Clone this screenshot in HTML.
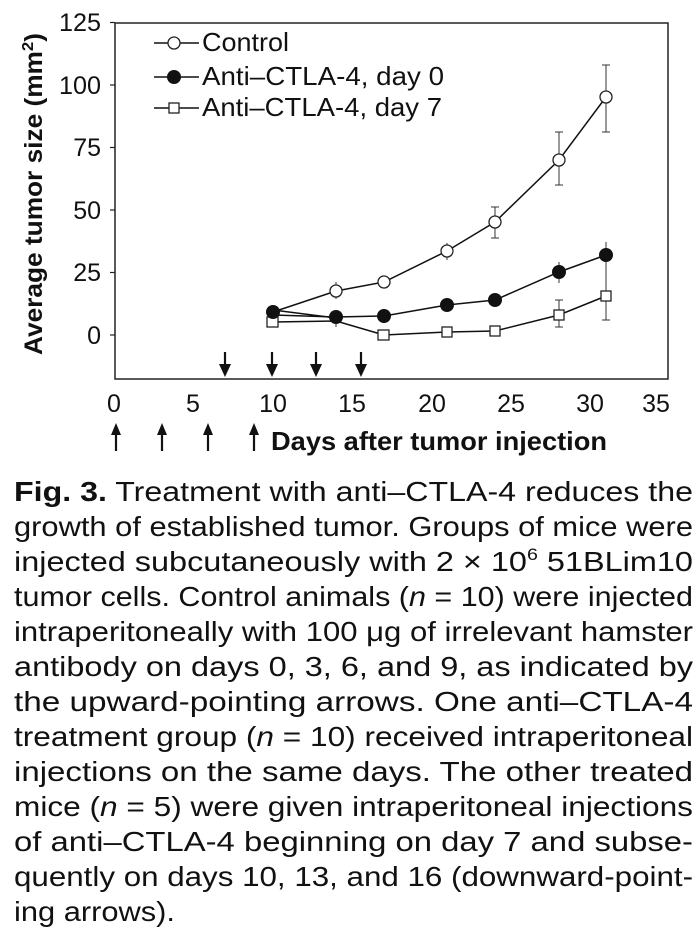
<!DOCTYPE html>
<html><head><meta charset="utf-8"><style>html,body{margin:0;padding:0;background:#fff}svg{display:block}</style></head>
<body>
<svg width="700" height="934" viewBox="0 0 700 934" xmlns="http://www.w3.org/2000/svg" font-family="Liberation Sans, Arial, sans-serif" fill="#111">
<rect x="115" y="23" width="553" height="356" fill="none" stroke="#222" stroke-width="1.5"/>
<g stroke="#222" stroke-width="1.2">
<line x1="110" y1="22.5" x2="115" y2="22.5"/><line x1="110" y1="85" x2="115" y2="85"/><line x1="110" y1="147.5" x2="115" y2="147.5"/><line x1="110" y1="210" x2="115" y2="210"/><line x1="110" y1="272.5" x2="115" y2="272.5"/><line x1="110" y1="335" x2="115" y2="335"/>
</g>
<g font-size="25" text-anchor="end">
<text x="101" y="31" textLength="42" lengthAdjust="spacingAndGlyphs">125</text><text x="101" y="94" textLength="42" lengthAdjust="spacingAndGlyphs">100</text><text x="101" y="156">75</text><text x="101" y="219">50</text><text x="101" y="281">25</text><text x="101" y="344">0</text>
</g>
<g font-size="25" text-anchor="middle">
<text x="114" y="412">0</text><text x="193" y="412">5</text><text x="273" y="412">10</text><text x="352" y="412">15</text><text x="432" y="412">20</text><text x="511" y="412">25</text><text x="590" y="412">30</text><text x="656" y="412">35</text>
</g>
<text transform="translate(42,194) rotate(-90)" font-size="25" font-weight="bold" text-anchor="middle" textLength="322" lengthAdjust="spacingAndGlyphs">Average tumor size (mm<tspan font-size="16" dy="-9">2</tspan><tspan dy="9">)</tspan></text>
<text x="271" y="450" font-size="26" font-weight="bold" textLength="336" lengthAdjust="spacingAndGlyphs">Days after tumor injection</text>
<g stroke="#111" stroke-width="2.2" fill="#111">
<line x1="225" y1="352" x2="225" y2="372"/><polygon points="219,364 225,377 231,364" stroke="none"/>
<line x1="272" y1="352" x2="272" y2="372"/><polygon points="266,364 272,377 278,364" stroke="none"/>
<line x1="316" y1="352" x2="316" y2="372"/><polygon points="310,364 316,377 322,364" stroke="none"/>
<line x1="361" y1="352" x2="361" y2="372"/><polygon points="355,364 361,377 367,364" stroke="none"/>
<line x1="116" y1="428" x2="116" y2="451"/><polygon points="111,435 116,423 121,435" stroke="none"/>
<line x1="162" y1="428" x2="162" y2="451"/><polygon points="157,435 162,423 167,435" stroke="none"/>
<line x1="208" y1="428" x2="208" y2="451"/><polygon points="203,435 208,423 213,435" stroke="none"/>
<line x1="254" y1="428" x2="254" y2="451"/><polygon points="249,435 254,423 259,435" stroke="none"/>
</g>
<g stroke="#333" stroke-width="1">
<line x1="606" y1="65" x2="606" y2="132"/><line x1="602" y1="65" x2="610" y2="65"/><line x1="602" y1="132" x2="610" y2="132"/>
<line x1="559" y1="132" x2="559" y2="185"/><line x1="555" y1="132" x2="563" y2="132"/><line x1="555" y1="185" x2="563" y2="185"/>
<line x1="495" y1="207" x2="495" y2="238"/><line x1="491" y1="207" x2="499" y2="207"/><line x1="491" y1="238" x2="499" y2="238"/>
<line x1="447" y1="243" x2="447" y2="260"/>
<line x1="606" y1="242" x2="606" y2="268"/><line x1="559" y1="262" x2="559" y2="283"/>
<line x1="606" y1="248" x2="606" y2="320"/><line x1="602" y1="320" x2="610" y2="320"/>
<line x1="559" y1="300" x2="559" y2="327"/><line x1="555" y1="300" x2="563" y2="300"/><line x1="555" y1="327" x2="563" y2="327"/>
<line x1="336" y1="282" x2="336" y2="299"/><line x1="336" y1="312" x2="336" y2="327"/>
</g>
<polyline points="273,312 336,291 384,282 447,251 495,222 559,160 606,97" fill="none" stroke="#111" stroke-width="1.5"/>
<g fill="#fff" stroke="#222" stroke-width="1.3">
<circle cx="336" cy="291" r="6"/><circle cx="384" cy="282" r="6"/><circle cx="447" cy="251" r="6"/><circle cx="495" cy="222" r="6"/><circle cx="559" cy="160" r="6"/><circle cx="606" cy="97" r="6"/>
</g>
<polyline points="273,322 336,321 384,335 447,332 495,331 559,315 606,296" fill="none" stroke="#111" stroke-width="1.5"/>
<g fill="#fff" stroke="#222" stroke-width="1.3">
<rect x="267" y="317" width="11" height="10"/><rect x="378" y="330" width="11" height="10"/><rect x="442" y="327" width="10" height="10"/><rect x="490" y="326" width="10" height="10"/><rect x="554" y="310" width="10" height="10"/><rect x="601" y="291" width="10" height="10"/>
</g>
<polyline points="273,315 336,317 384,316 447,305 495,300 559,272 606,255" fill="none" stroke="#111" stroke-width="1.5"/>
<polyline points="273,310 336,318" fill="none" stroke="#111" stroke-width="1.5"/>
<g fill="#111">
<circle cx="273" cy="312" r="7"/><circle cx="336" cy="317" r="7"/><circle cx="384" cy="316" r="7"/><circle cx="447" cy="305" r="7"/><circle cx="495" cy="300" r="7"/><circle cx="559" cy="272" r="7"/><circle cx="606" cy="255" r="7"/>
</g>
<g stroke="#111" stroke-width="1.5">
<line x1="154" y1="43" x2="199" y2="43"/><line x1="154" y1="77" x2="199" y2="77"/><line x1="154" y1="108" x2="199" y2="108"/>
</g>
<circle cx="174" cy="43" r="6" fill="#fff" stroke="#222" stroke-width="1.3"/>
<circle cx="174" cy="77" r="7" fill="#111"/>
<rect x="169" y="103" width="10" height="10" fill="#fff" stroke="#222" stroke-width="1.3"/>
<g font-size="26">
<text x="202" y="51" textLength="87" lengthAdjust="spacingAndGlyphs">Control</text>
<text x="202" y="85" textLength="242" lengthAdjust="spacingAndGlyphs">Anti–CTLA-4, day 0</text>
<text x="202" y="116" textLength="240" lengthAdjust="spacingAndGlyphs">Anti–CTLA-4, day 7</text>
</g>
<g font-size="28" fill="#111">
<text x="14" y="501" textLength="679" lengthAdjust="spacingAndGlyphs"><tspan font-weight="bold">Fig. 3.</tspan> Treatment with anti–CTLA-4 reduces the</text>
<text x="14" y="536" textLength="679" lengthAdjust="spacingAndGlyphs">growth of established tumor. Groups of mice were</text>
<text x="14" y="571" textLength="679" lengthAdjust="spacingAndGlyphs">injected subcutaneously with 2 × 10<tspan font-size="17" dy="-11">6</tspan><tspan dy="11"> 51BLim10</tspan></text>
<text x="14" y="606" textLength="679" lengthAdjust="spacingAndGlyphs">tumor cells. Control animals (<tspan font-style="italic">n</tspan> = 10) were injected</text>
<text x="14" y="641" textLength="679" lengthAdjust="spacingAndGlyphs">intraperitoneally with 100 μg of irrelevant hamster</text>
<text x="14" y="676" textLength="679" lengthAdjust="spacingAndGlyphs">antibody on days 0, 3, 6, and 9, as indicated by</text>
<text x="14" y="711" textLength="679" lengthAdjust="spacingAndGlyphs">the  upward-pointing  arrows.  One  anti–CTLA-4</text>
<text x="14" y="746" textLength="679" lengthAdjust="spacingAndGlyphs">treatment group (<tspan font-style="italic">n</tspan> = 10) received intraperitoneal</text>
<text x="14" y="781" textLength="679" lengthAdjust="spacingAndGlyphs">injections  on  the  same  days.  The  other  treated</text>
<text x="14" y="816" textLength="679" lengthAdjust="spacingAndGlyphs">mice (<tspan font-style="italic">n</tspan> = 5) were given intraperitoneal injections</text>
<text x="14" y="851" textLength="679" lengthAdjust="spacingAndGlyphs">of anti–CTLA-4 beginning on day 7 and subse-</text>
<text x="14" y="886" textLength="679" lengthAdjust="spacingAndGlyphs">quently on days 10, 13, and 16 (downward-point-</text>
<text x="14" y="921" textLength="161" lengthAdjust="spacingAndGlyphs">ing arrows).</text>
</g>
</svg>
</body></html>
